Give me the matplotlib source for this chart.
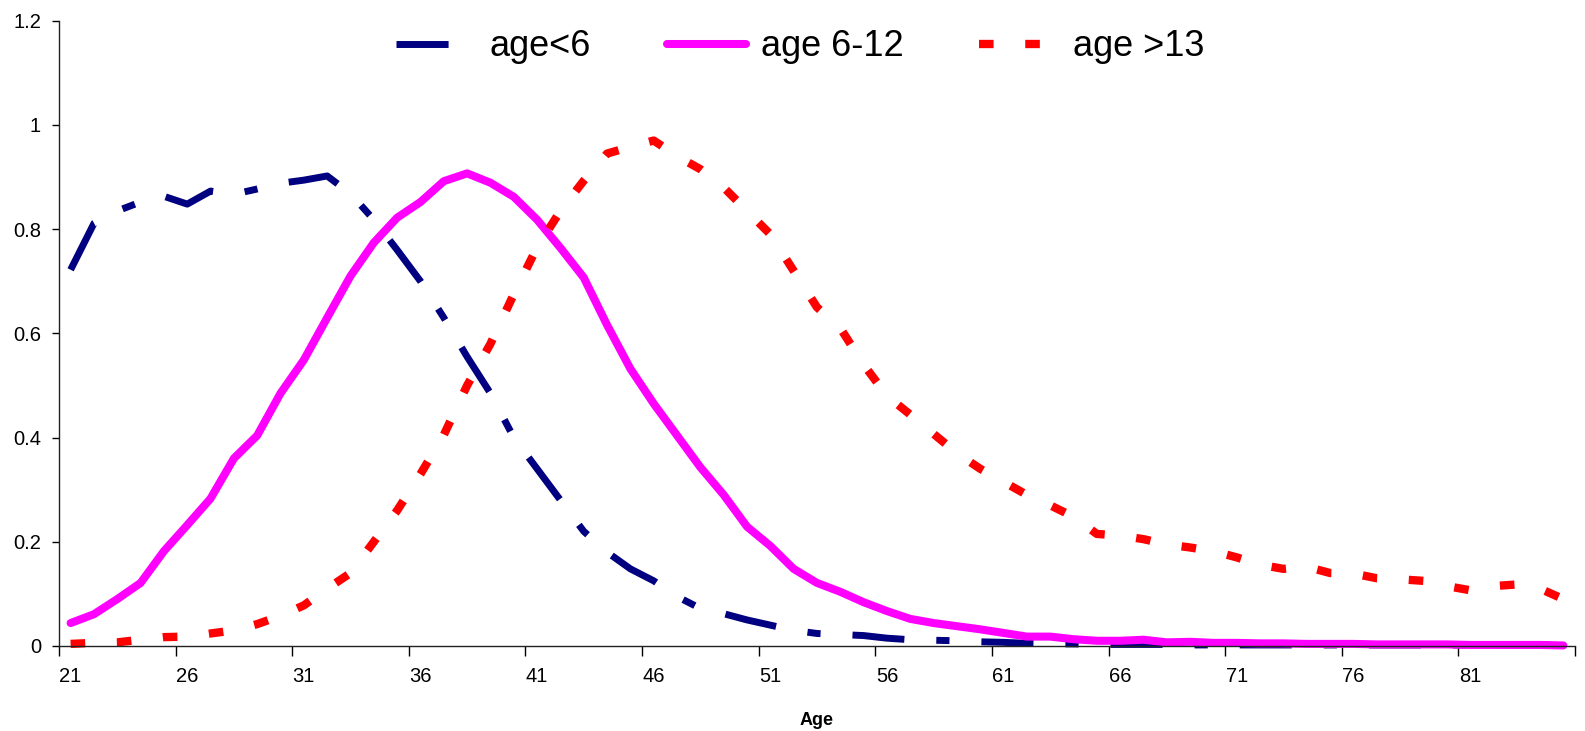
import matplotlib
matplotlib.use("Agg")
import matplotlib.pyplot as plt
from matplotlib.ticker import FixedLocator, FixedFormatter

plt.rcParams['font.family'] = ['Liberation Sans', 'DejaVu Sans']

# ages on the category axis
ages = list(range(21, 86))

# share of women by age of youngest child
young = [0.722, 0.811, 0.835, 0.852, 0.863, 0.848, 0.873, 0.867, 0.877, 0.888,
         0.894, 0.902, 0.868, 0.818, 0.760, 0.700, 0.630, 0.555, 0.485, 0.400,
         0.340, 0.280, 0.220, 0.180, 0.148, 0.125, 0.095, 0.072, 0.062, 0.050,
         0.040, 0.030, 0.024, 0.022, 0.020, 0.015, 0.012, 0.011, 0.010, 0.008,
         0.007, 0.005, 0.004, 0.004, 0.003, 0.003, 0.003, 0.003, 0.002, 0.002,
         0.002, 0.002, 0.002, 0.002, 0.002, 0.002, 0.002, 0.002, 0.002, 0.002,
         0.002, 0.002, 0.002, 0.002, 0.002]
middle = [0.044, 0.061, 0.090, 0.121, 0.182, 0.232, 0.283, 0.360, 0.404, 0.485,
          0.549, 0.630, 0.710, 0.774, 0.822, 0.852, 0.892, 0.907, 0.889, 0.862,
          0.818, 0.764, 0.707, 0.616, 0.532, 0.465, 0.404, 0.343, 0.290, 0.229,
          0.192, 0.148, 0.121, 0.104, 0.084, 0.067, 0.052, 0.044, 0.038, 0.032,
          0.025, 0.018, 0.018, 0.013, 0.010, 0.010, 0.012, 0.007, 0.008, 0.006,
          0.006, 0.005, 0.005, 0.004, 0.004, 0.004, 0.003, 0.003, 0.003, 0.003,
          0.002, 0.002, 0.002, 0.002, 0.001]
older = [0.004, 0.006, 0.007, 0.012, 0.017, 0.018, 0.024, 0.030, 0.042, 0.058,
         0.078, 0.110, 0.140, 0.200, 0.260, 0.330, 0.405, 0.500, 0.580, 0.675,
         0.765, 0.835, 0.893, 0.945, 0.958, 0.970, 0.940, 0.915, 0.880, 0.835,
         0.790, 0.720, 0.650, 0.610, 0.540, 0.480, 0.444, 0.407, 0.370, 0.340,
         0.315, 0.290, 0.270, 0.248, 0.215, 0.212, 0.205, 0.195, 0.189, 0.182,
         0.170, 0.156, 0.148, 0.152, 0.140, 0.139, 0.130, 0.128, 0.125, 0.115,
         0.107, 0.115, 0.118, 0.110, 0.090]

series_names = ['age<6', 'age 6-12', 'age >13']

fig = plt.figure(figsize=(15.85, 7.31), dpi=100)
ax = fig.add_axes([0.0372, 0.1163, 0.9565, 0.8554])

ax.plot(ages, young, color='#000080', lw=5, linestyle=(0, (7.5, 4.6, 1.9, 4.6)),
        dash_capstyle='butt', clip_on=False, label=series_names[0])
ax.plot(ages, middle, color='#FF00FF', lw=5.8, solid_capstyle='round',
        solid_joinstyle='round', clip_on=False, label=series_names[1])
ax.plot(ages, older, color='#FF0000', lw=6, linestyle=(0, (1.75, 3.8)),
        dash_capstyle='butt', clip_on=False, label=series_names[2])

ax.set_xlim(20.5, 85.5)
ax.set_ylim(0, 1.2)

# tick marks sit between categories, labels on every fifth age
ax.xaxis.set_major_locator(FixedLocator([20.5 + 5 * k for k in range(14)]))
ax.xaxis.set_major_formatter(FixedFormatter([''] * 14))
label_ages = ages[::5]
ax.xaxis.set_minor_locator(FixedLocator(label_ages))
ax.xaxis.set_minor_formatter(FixedFormatter([str(a) for a in label_ages]))
ax.tick_params(axis='x', which='major', length=7, width=1, direction='out')
ax.tick_params(axis='x', which='minor', length=0, pad=15, labelsize=14.5)

yticks = [0, 0.2, 0.4, 0.6, 0.8, 1.0, 1.2]
ax.set_yticks(yticks)
ax.set_yticklabels(['0', '0.2', '0.4', '0.6', '0.8', '1', '1.2'])
ax.tick_params(axis='y', length=5, width=1, direction='out', pad=8, labelsize=14.5)

for side in ['top', 'right']:
    ax.spines[side].set_visible(False)
for side in ['left', 'bottom']:
    ax.spines[side].set_linewidth(1)
    ax.spines[side].set_color('#222222')

ax.set_xlabel('Age', fontsize=13, fontweight='bold', labelpad=19)

ax.legend(loc='center', bbox_to_anchor=(0.489, 0.958), ncol=3, frameon=False,
          fontsize=26, handlelength=2.2, handletextpad=0.4, columnspacing=2.1)

fig.savefig('out.png', dpi=100)
